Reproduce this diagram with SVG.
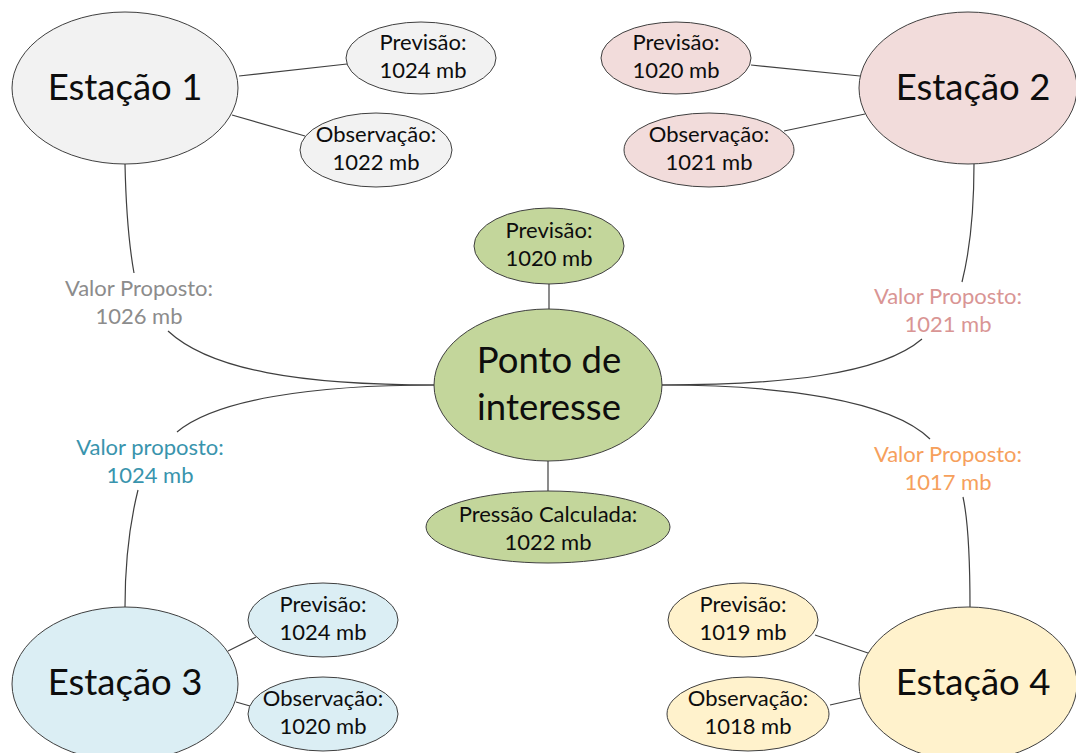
<svg xmlns="http://www.w3.org/2000/svg" width="1076" height="753" viewBox="0 0 1076 753">
<style>
  .n { stroke: #3f3f3f; stroke-width: 1; }
  .c { fill: none; stroke: #3f3f3f; stroke-width: 1.2; }
  .big { font-family: Lato, "Open Sans", sans-serif; font-size: 36.5px; fill: #0d0d0d; text-anchor: middle; }
  .sm { font-family: Lato, "Open Sans", sans-serif; font-size: 22px; fill: #0d0d0d; text-anchor: middle; }
  .lab { font-family: Lato, "Open Sans", sans-serif; font-size: 22px; text-anchor: middle; }
  .g1 { fill: #f2f2f2; } .g2 { fill: #f2dcdb; } .g3 { fill: #dbeef4; } .g4 { fill: #fff2cc; } .g0 { fill: #c3d69b; }
</style>
<rect width="1076" height="753" fill="#ffffff"/>
<g id="connectors">
  <line class="c" x1="239" y1="76" x2="347" y2="64"/>
  <line class="c" x1="232" y1="115" x2="305" y2="136"/>
  <line class="c" x1="751" y1="65" x2="860" y2="76"/>
  <line class="c" x1="784" y1="131" x2="865" y2="114"/>
  <line class="c" x1="549" y1="284" x2="549" y2="309"/>
  <line class="c" x1="548" y1="461" x2="548" y2="492"/>
  <line class="c" x1="228" y1="651" x2="256" y2="637"/>
  <line class="c" x1="236" y1="702" x2="250" y2="706"/>
  <line class="c" x1="815" y1="635" x2="868" y2="653"/>
  <line class="c" x1="830" y1="705" x2="861" y2="698"/>
  <path class="c" d="M125,164 C126,210 129,245 134,273"/>
  <path class="c" d="M168,331 C210,370 300,385 435,385"/>
  <path class="c" d="M974,164 C974,210 970,250 962,282"/>
  <path class="c" d="M922,339 C880,375 780,385 662,385"/>
  <path class="c" d="M662,385 C780,385 890,400 930,439"/>
  <path class="c" d="M963,497 C968,520 970,560 970,607"/>
  <path class="c" d="M435,385 C310,385 215,400 177,432"/>
  <path class="c" d="M138,490 C128,530 125,570 125,607"/>
</g>
<g id="labels">
  <text class="lab" fill="#8c8c8c" x="139" y="296">Valor Proposto:</text>
  <text class="lab" fill="#8c8c8c" x="139" y="324">1026 mb</text>
  <text class="lab" fill="#d99594" x="948" y="304">Valor Proposto:</text>
  <text class="lab" fill="#d99594" x="948" y="332">1021 mb</text>
  <text class="lab" fill="#3994ad" x="150" y="455">Valor proposto:</text>
  <text class="lab" fill="#3994ad" x="150" y="483">1024 mb</text>
  <text class="lab" fill="#f6a05c" x="948" y="462">Valor Proposto:</text>
  <text class="lab" fill="#f6a05c" x="948" y="490">1017 mb</text>
</g>
<g id="estacao1">
  <ellipse class="n g1" cx="125" cy="88" rx="113" ry="76"/>
  <text class="big" x="125" y="100">Estação 1</text>
</g>
<g id="previsao1">
  <ellipse class="n g1" cx="421" cy="58" rx="75" ry="36"/>
  <text class="sm" x="423" y="50">Previsão:</text>
  <text class="sm" x="423" y="78">1024 mb</text>
</g>
<g id="observacao1">
  <ellipse class="n g1" cx="376" cy="150" rx="76" ry="37"/>
  <text class="sm" x="376" y="142">Observação:</text>
  <text class="sm" x="376" y="170">1022 mb</text>
</g>
<g id="estacao2">
  <ellipse class="n g2" cx="968" cy="88" rx="109" ry="76"/>
  <text class="big" x="973" y="100">Estação 2</text>
</g>
<g id="previsao2">
  <ellipse class="n g2" cx="676" cy="58" rx="75" ry="36"/>
  <text class="sm" x="676" y="50">Previsão:</text>
  <text class="sm" x="676" y="78">1020 mb</text>
</g>
<g id="observacao2">
  <ellipse class="n g2" cx="709" cy="150" rx="85" ry="37"/>
  <text class="sm" x="709" y="142">Observação:</text>
  <text class="sm" x="709" y="170">1021 mb</text>
</g>
<g id="ponto">
  <ellipse class="n g0" cx="548" cy="385" rx="114" ry="76"/>
  <text class="big" x="549" y="373">Ponto de</text>
  <text class="big" x="549" y="420">interesse</text>
</g>
<g id="previsao0">
  <ellipse class="n g0" cx="549" cy="246" rx="75" ry="38"/>
  <text class="sm" x="549" y="238">Previsão:</text>
  <text class="sm" x="549" y="266">1020 mb</text>
</g>
<g id="pressao">
  <ellipse class="n g0" cx="548" cy="527" rx="122" ry="36"/>
  <text class="sm" x="548" y="522">Pressão Calculada:</text>
  <text class="sm" x="548" y="550">1022 mb</text>
</g>
<g id="estacao3">
  <ellipse class="n g3" cx="125" cy="684" rx="113" ry="77"/>
  <text class="big" x="125" y="695">Estação 3</text>
</g>
<g id="previsao3">
  <ellipse class="n g3" cx="323" cy="620" rx="75" ry="37"/>
  <text class="sm" x="323" y="612">Previsão:</text>
  <text class="sm" x="323" y="640">1024 mb</text>
</g>
<g id="observacao3">
  <ellipse class="n g3" cx="323" cy="714" rx="75" ry="37"/>
  <text class="sm" x="323" y="706">Observação:</text>
  <text class="sm" x="323" y="734">1020 mb</text>
</g>
<g id="estacao4">
  <ellipse class="n g4" cx="968" cy="684" rx="109" ry="77"/>
  <text class="big" x="973" y="695">Estação 4</text>
</g>
<g id="previsao4">
  <ellipse class="n g4" cx="743" cy="620" rx="75" ry="37"/>
  <text class="sm" x="743" y="612">Previsão:</text>
  <text class="sm" x="743" y="640">1019 mb</text>
</g>
<g id="observacao4">
  <ellipse class="n g4" cx="748" cy="714" rx="81" ry="37"/>
  <text class="sm" x="748" y="706">Observação:</text>
  <text class="sm" x="748" y="734">1018 mb</text>
</g>
</svg>
